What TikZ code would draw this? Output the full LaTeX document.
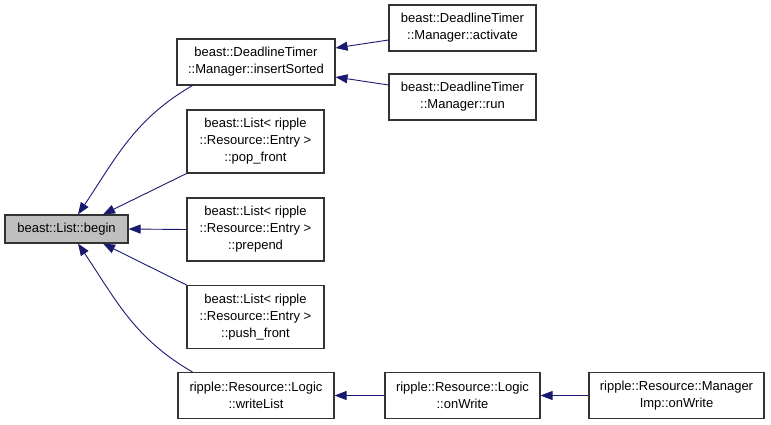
\documentclass[tikz,border=0pt]{standalone}
\usepackage{fontspec}
\setmainfont{Liberation Sans}
\usepackage{xcolor}
\definecolor{edgeblue}{HTML}{191970}
\definecolor{focusgray}{HTML}{BFBFBF}
\usetikzlibrary{arrows.meta, positioning}

\begin{document}
\begin{tikzpicture}[x=1pt, y=-1pt,
    fn/.style={draw=black!80, line width=1.1pt, rectangle, align=center,
      inner sep=0pt, minimum height=46pt, font=\fontsize{13}{17}\selectfont},
    tall/.style={minimum height=63pt},
    edge/.style={draw=edgeblue, line width=0.9pt,
      -{Triangle[length=12pt, width=9pt]}}]
  \useasboundingbox (0,0) rectangle (771,424);

  % Function being called
  \node[fn, fill=focusgray, minimum width=123pt, minimum height=28pt] (begin) at (66.5,229) {beast::List::begin};

  % Direct callers
  \node[fn, minimum width=158pt] (insertSorted) at (256,62) {beast::DeadlineTimer\\::Manager::insertSorted};
  \node[fn, tall, minimum width=137pt] (popFront) at (255.5,141.5) {beast::List< ripple\\::Resource::Entry >\\::pop\_front};
  \node[fn, tall, minimum width=137pt] (prepend) at (255.5,229.5) {beast::List< ripple\\::Resource::Entry >\\::prepend};
  \node[fn, tall, minimum width=137pt] (pushFront) at (255.5,317) {beast::List< ripple\\::Resource::Entry >\\::push\_front};
  \node[fn, minimum width=156pt] (writeList) at (256,395.5) {ripple::Resource::Logic\\::writeList};

  % Callers of the callers
  \node[fn, minimum width=147pt] (activate) at (462.5,28) {beast::DeadlineTimer\\::Manager::activate};
  \node[fn, minimum width=147pt] (run) at (462.5,97) {beast::DeadlineTimer\\::Manager::run};
  \node[fn, minimum width=155pt] (onWrite) at (462.5,395.5) {ripple::Resource::Logic\\::onWrite};
  \node[fn, minimum width=175pt] (mgrOnWrite) at (676.5,395.5) {ripple::Resource::Manager\\Imp::onWrite};

  % Call edges
  \draw[edge] ([xshift=16]insertSorted.south west) to[out=210, in=56] ([xshift=11.5]begin.north);
  \draw[edge] (popFront.south west) -- ([xshift=36.5]begin.north);
  \draw[edge] (prepend.west) -- (begin.east);
  \draw[edge] (pushFront.north west) -- ([xshift=36.5]begin.south);
  \draw[edge] ([xshift=15]writeList.north west) to[out=150, in=-56] ([xshift=11.5]begin.south);

  \draw[edge] ([yshift=-12]activate.west) -- ([yshift=14]insertSorted.east);
  \draw[edge] ([yshift=12]run.west) -- ([yshift=-15]insertSorted.east);
  \draw[edge] (onWrite.west) -- (writeList.east);
  \draw[edge] (mgrOnWrite.west) -- (onWrite.east);
\end{tikzpicture}
\end{document}
